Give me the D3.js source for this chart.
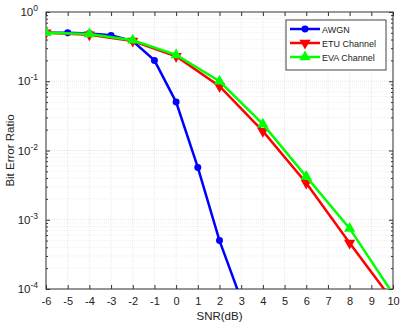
<!DOCTYPE html>
<html><head><meta charset="utf-8">
<script src="https://cdn.jsdelivr.net/npm/d3@7"></script>
<style>body{margin:0;background:#fff;}svg{display:block;font-family:"Liberation Sans",Arial,sans-serif;}</style>
</head><body><svg id="c" width="408" height="332"></svg>
<script>
const snrAWGN = [-6,-5,-4,-3,-2,-1,0,1,2,3];
const berAWGN = [0.5,0.5,0.49,0.46,0.38,0.2,0.05,0.0057,0.0005,0.00007];
const snrFade = [-6,-4,-2,0,2,4,6,8,10];
const berETU = [0.5,0.47,0.38,0.23,0.085,0.019,0.0034,0.00046,0.000067];
const berEVA = [0.5,0.48,0.39,0.24,0.1,0.024,0.0042,0.00075,0.000085];
const xTicks = d3.range(-6,11,1);
const yTicks = [1e-4,1e-3,1e-2,1e-1,1];
const legendNames = ["AWGN","ETU Channel","EVA Channel"];

const svg = d3.select("#c");
const L=46,R=393,T=12,B=289;
const x = d3.scaleLinear().domain([-6,10]).range([L,R]);
const y = d3.scaleLog().domain([1e-4,1]).range([B,T]);

// grid
const g = svg.append("g");
xTicks.forEach(v=>g.append("line").attr("x1",x(v)).attr("x2",x(v)).attr("y1",T).attr("y2",B)
  .attr("stroke","#d8d8d8").attr("stroke-width",0.6).attr("stroke-dasharray","1,1"));
for(let e=-4;e<0;e++){ for(let m=1;m<10;m++){ const v=m*Math.pow(10,e);
  g.append("line").attr("x1",L).attr("x2",R).attr("y1",y(v)).attr("y2",y(v))
   .attr("stroke",m===1?"#d0d0d0":"#e6e6e6").attr("stroke-width",0.6).attr("stroke-dasharray","1,1");}}

// axes
const xa = svg.append("g").attr("transform",`translate(0,${B})`)
  .call(d3.axisBottom(x).tickValues(xTicks).tickSizeInner(-4).tickSizeOuter(0).tickPadding(8).tickFormat(d=>String(d)));
svg.append("g").attr("transform",`translate(0,${T})`)
  .call(d3.axisTop(x).tickValues(xTicks).tickSizeInner(-4).tickSizeOuter(0).tickFormat(""));
const minorY=[]; for(let e=-4;e<0;e++) for(let m=2;m<10;m++) minorY.push(m*Math.pow(10,e));
svg.append("g").attr("transform",`translate(${L},0)`)
  .call(d3.axisLeft(y).tickValues(yTicks).tickSizeInner(-4).tickSizeOuter(0).tickFormat(""));
svg.append("g").attr("transform",`translate(${L},0)`)
  .call(d3.axisLeft(y).tickValues(minorY).tickSizeInner(-2).tickSizeOuter(0).tickFormat(""));
svg.append("g").attr("transform",`translate(${R},0)`)
  .call(d3.axisRight(y).tickValues(yTicks).tickSizeInner(-4).tickSizeOuter(0).tickFormat(""));
svg.append("g").attr("transform",`translate(${R},0)`)
  .call(d3.axisRight(y).tickValues(minorY).tickSizeInner(-2).tickSizeOuter(0).tickFormat(""));
svg.selectAll(".domain").remove();
svg.selectAll(".tick line").attr("stroke","#333");
xa.selectAll("text").attr("font-size",11).attr("fill","#222");
svg.append("rect").attr("x",L).attr("y",T).attr("width",R-L).attr("height",B-T)
  .attr("fill","none").attr("stroke","#333").attr("stroke-width",1);

// y labels with superscripts
yTicks.forEach(v=>{
  const e=Math.round(Math.log10(v));
  const t=svg.append("text").attr("x",L-8).attr("y",y(v)+4).attr("text-anchor","end")
    .attr("font-size",11.5).attr("fill","#222");
  t.append("tspan").text("10");
  t.append("tspan").attr("dy",-5).attr("font-size",8.5).text(String(e));
});

svg.append("text").attr("x",(L+R)/2).attr("y",320).attr("text-anchor","middle")
  .attr("font-size",11.5).attr("fill","#222").text("SNR(dB)");
svg.append("text").attr("transform",`translate(14,${(T+B)/2}) rotate(-90)`).attr("text-anchor","middle")
  .attr("font-size",11.5).attr("fill","#222").text("Bit Error Ratio");

// data
svg.append("clipPath").attr("id","cp").append("rect").attr("x",L).attr("y",T).attr("width",R-L).attr("height",B-T);
const plot = svg.append("g").attr("clip-path","url(#cp)");
const line = d3.line().x(d=>x(d[0])).y(d=>y(d[1]));
const series = [
 {name:legendNames[0],xs:snrAWGN,ys:berAWGN,color:"#0000ff",sym:d3.symbolCircle,size:38,rot:0},
 {name:legendNames[1],xs:snrFade,ys:berETU,color:"#ff0000",sym:d3.symbolTriangle,size:55,rot:180},
 {name:legendNames[2],xs:snrFade,ys:berEVA,color:"#00ff00",sym:d3.symbolTriangle,size:55,rot:0}
];
series.forEach(s=>{
  const pts=s.xs.map((v,i)=>[v,s.ys[i]]);
  plot.append("path").datum(pts).attr("d",line).attr("fill","none").attr("stroke",s.color).attr("stroke-width",2.5);
  plot.selectAll(null).data(pts.filter(p=>p[1]>=1e-4)).enter().append("path")
    .attr("d",d3.symbol().type(s.sym).size(s.size))
    .attr("transform",p=>`translate(${x(p[0])},${y(p[1])}) rotate(${s.rot})`)
    .attr("fill",s.color);
});

// legend
const lg = svg.append("g");
lg.append("rect").attr("x",286).attr("y",20).attr("width",100).attr("height",50)
  .attr("fill","#fff").attr("stroke","#444").attr("stroke-width",1);
series.forEach((s,i)=>{
  const yy=29+i*14;
  lg.append("line").attr("x1",290).attr("x2",320).attr("y1",yy).attr("y2",yy).attr("stroke",s.color).attr("stroke-width",2.5);
  lg.append("path").attr("d",d3.symbol().type(s.sym).size(s.size)).attr("transform",`translate(305,${yy}) rotate(${s.rot})`).attr("fill",s.color);
  lg.append("text").attr("x",322).attr("y",yy+3.5).attr("font-size",9).attr("fill","#222").text(s.name);
});
</script></body></html>
